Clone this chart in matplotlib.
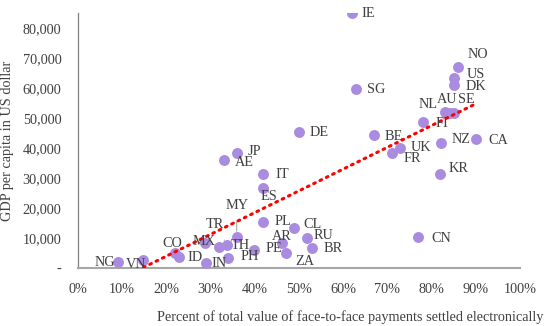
import numpy as np
import matplotlib
matplotlib.use('Agg')
import matplotlib.pyplot as plt
from matplotlib.ticker import FuncFormatter, MultipleLocator

# share of face-to-face payments settled electronically (%) and GDP per capita (USD)
countries = ['IE', 'NO', 'US', 'DK', 'SG', 'NL', 'AU', 'SE', 'FI', 'DE', 'BE', 'NZ',
             'CA', 'UK', 'FR', 'KR', 'CN', 'JP', 'AE', 'IT', 'ES', 'MY', 'PL', 'CL',
             'RU', 'BR', 'AR', 'ZA', 'PE', 'PH', 'TH', 'TR', 'MX', 'CO', 'ID', 'IN',
             'NG', 'VN']
pct_electronic = [61.9, 86.0, 85.1, 85.1, 62.9, 83.0, 84.2, 85.1, 78.0, 49.9, 67.0, 82.1,
                  90.0, 72.9, 71.0, 81.9, 77.0, 35.9, 33.0, 41.9, 41.9, 35.9, 41.9, 48.9,
                  51.9, 52.9, 46.1, 47.0, 39.9, 34.0, 32.0, 33.8, 28.8, 21.9, 22.9, 29.0,
                  9.1, 14.8]
gdp_per_capita = [84900, 67100, 63400, 61000, 59600, 52100, 51800, 51800, 48600, 45400,
                  44300, 41800, 43000, 40100, 38400, 31300, 10200, 38500, 36000, 31300,
                  26800, 10400, 15400, 13200, 10100, 6600, 8200, 4900, 6000, 3400, 7100,
                  7700, 8200, 4900, 3800, 1800, 1900, 2700]

# label placement (pixels from the marker) and which labels get a leader line
label_offsets = {
    'IE': (17, 0), 'NO': (20, 12), 'US': (22, 3), 'DK': (22, -2), 'SG': (20, 0),
    'NL': (-17, 7), 'AU': (-3, 13), 'SE': (12, 13), 'FI': (19, -1), 'DE': (21, -1),
    'BE': (20, -1), 'NZ': (20, 3), 'CA': (22, -1), 'UK': (21, 0), 'FR': (21, -6),
    'KR': (19, 6), 'CN': (23, -1), 'JP': (18, 1), 'AE': (20, -2), 'IT': (19, 0),
    'ES': (6, -9), 'MY': (0, 31), 'PL': (20, 0), 'CL': (18, 4), 'RU': (16, 2),
    'BR': (21, 0), 'AR': (0, 7), 'ZA': (19, -8), 'PE': (20, 2), 'PH': (21, 1),
    'TH': (21, 1), 'TR': (-13, 20), 'MX': (-1, 2), 'CO': (-2, 10), 'ID': (16, -1),
    'IN': (13, -1), 'NG': (-13, 0), 'VN': (-7, -5),
}
leader = {'US', 'FR', 'AE', 'MY', 'PE', 'PH', 'TR'}

plt.rcParams['font.family'] = ['Liberation Serif', 'DejaVu Serif']
fs = 10.3
txt = '#404040'

fig = plt.figure(figsize=(5.5, 3.26), dpi=100)
ax = fig.add_axes([78 / 550, 58 / 326, 442 / 550, 255 / 326])

ax.scatter(pct_electronic, gdp_per_capita, s=62, color='#A98CE0', zorder=3, linewidths=0)

# linear trend line over the data range
x = np.array(pct_electronic)
y = np.array(gdp_per_capita)
slope, intercept = np.polyfit(x, y, 1)
xs = np.array([x.min(), x.max()])
ax.plot(xs, slope * xs + intercept, color='#FF0000', lw=2.2,
        linestyle=(0, (0.6, 1.7)), dash_capstyle='round', zorder=4)

for c, px, gy in zip(countries, pct_electronic, gdp_per_capita):
    dx, dy = label_offsets[c]
    kw = {}
    if c in leader:
        kw['arrowprops'] = dict(arrowstyle='-', color='#A6A6A6', lw=0.8,
                                shrinkA=5, shrinkB=4)
    ax.annotate(c, (px, gy), xytext=(dx, dy), textcoords='offset pixels',
                ha='center', va='center', fontsize=fs, color=txt, zorder=5, **kw)

ax.set_xlim(0, 100)
ax.set_ylim(0, 85000)
ax.xaxis.set_major_locator(MultipleLocator(10))
ax.yaxis.set_major_locator(MultipleLocator(10000))
ax.xaxis.set_major_formatter(FuncFormatter(lambda v, p: f'{v:.0f}%'))
ax.yaxis.set_major_formatter(FuncFormatter(lambda v, p: '-' if v == 0 else f'{v:,.0f}'))
ax.tick_params(axis='both', length=0, labelsize=fs, colors=txt)
ax.tick_params(axis='y', pad=12)
ax.tick_params(axis='x', pad=11)

for side in ['top', 'right']:
    ax.spines[side].set_visible(False)
ax.spines['left'].set_color('#808080')
ax.spines['left'].set_linewidth(0.9)
ax.spines['bottom'].set_color('#A6A6A6')
ax.spines['bottom'].set_linewidth(1.5)

ax.set_xlabel('Percent of total value of face-to-face payments settled electronically',
              fontsize=fs, color=txt)
ax.xaxis.set_label_coords(0.615, -0.165)
ax.set_ylabel('GDP per capita in US dollar', fontsize=fs, color=txt, labelpad=6)

plt.savefig('out.png', dpi=100)
plt.close(fig)
